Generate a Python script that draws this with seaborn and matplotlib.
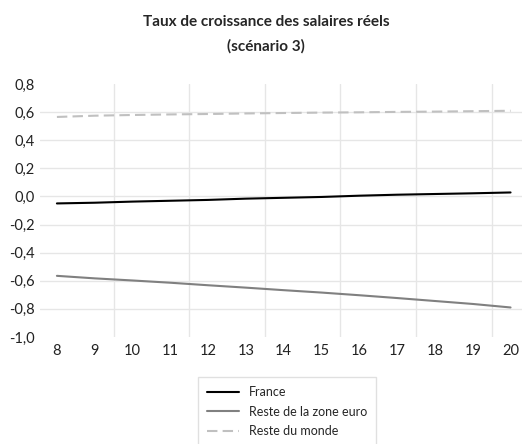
import numpy as np
import pandas as pd
import seaborn as sns
import matplotlib.pyplot as plt
from matplotlib.ticker import FuncFormatter

years = list(range(8, 21))
france = [-0.050, -0.045, -0.037, -0.031, -0.025, -0.016, -0.010, -0.004, 0.005, 0.012, 0.017, 0.022, 0.028]
reste_euro = [-0.565, -0.583, -0.598, -0.614, -0.632, -0.649, -0.667, -0.684, -0.703, -0.723, -0.744, -0.765, -0.790]
reste_monde = [0.565, 0.574, 0.579, 0.583, 0.586, 0.590, 0.593, 0.596, 0.598, 0.601, 0.603, 0.606, 0.609]

series_names = ["France", "Reste de la zone euro", "Reste du monde"]
colors = ["#000000", "#808080", "#c0c0c0"]

df = pd.DataFrame({
    "annee": years * 3,
    "valeur": france + reste_euro + reste_monde,
    "serie": [series_names[0]] * 13 + [series_names[1]] * 13 + [series_names[2]] * 13,
})

sns.set_theme(style="white")
plt.rcParams["font.family"] = ["Lato", "DejaVu Sans"]

fig = plt.figure(figsize=(5.32, 4.44), dpi=100)
ax = fig.add_axes([0.075, 0.241, 0.906, 0.570])

sns.lineplot(data=df, x="annee", y="valeur", hue="serie", style="serie",
             palette=colors, dashes={series_names[0]: "", series_names[1]: "",
                                     series_names[2]: (5, 2.5)},
             linewidth=1.5, ax=ax, legend=True)

ax.set_xlim(7.55, 20.3)
ax.set_ylim(-1.0, 0.8)
ax.set_xticks(years)
ax.set_yticks(np.arange(-1.0, 0.81, 0.2))
ax.yaxis.set_major_formatter(FuncFormatter(lambda v, p: f"{v:.1f}".replace(".", ",").replace("-0,0", "0,0")))
for y in np.arange(-0.8, 0.7, 0.2):
    ax.axhline(y, color="#e6e6e6", lw=1, zorder=0)
for x in np.arange(9.5, 20, 2):
    ax.axvline(x, color="#e6e6e6", lw=1, zorder=0)
for s in ax.spines.values():
    s.set_visible(False)
ax.tick_params(axis="both", labelsize=10.5, length=0, colors="#222222")
ax.tick_params(axis="x", pad=5)
ax.set_xlabel("")
ax.set_ylabel("")

fig.suptitle("Taux de croissance des salaires réels\n(scénario 3)",
             fontsize=11, fontweight="bold", y=0.966, linespacing=1.9)

handles, labels = ax.get_legend_handles_labels()
ax.legend(handles, labels, loc="upper center", bbox_to_anchor=(287 / 532, 1 - 371 / 444),
          bbox_transform=fig.transFigure, frameon=True, fontsize=9,
          edgecolor="#d9d9d9", fancybox=False, handlelength=2.6, borderpad=0.7,
          labelspacing=0.6)

fig.savefig("out.png", dpi=100)
